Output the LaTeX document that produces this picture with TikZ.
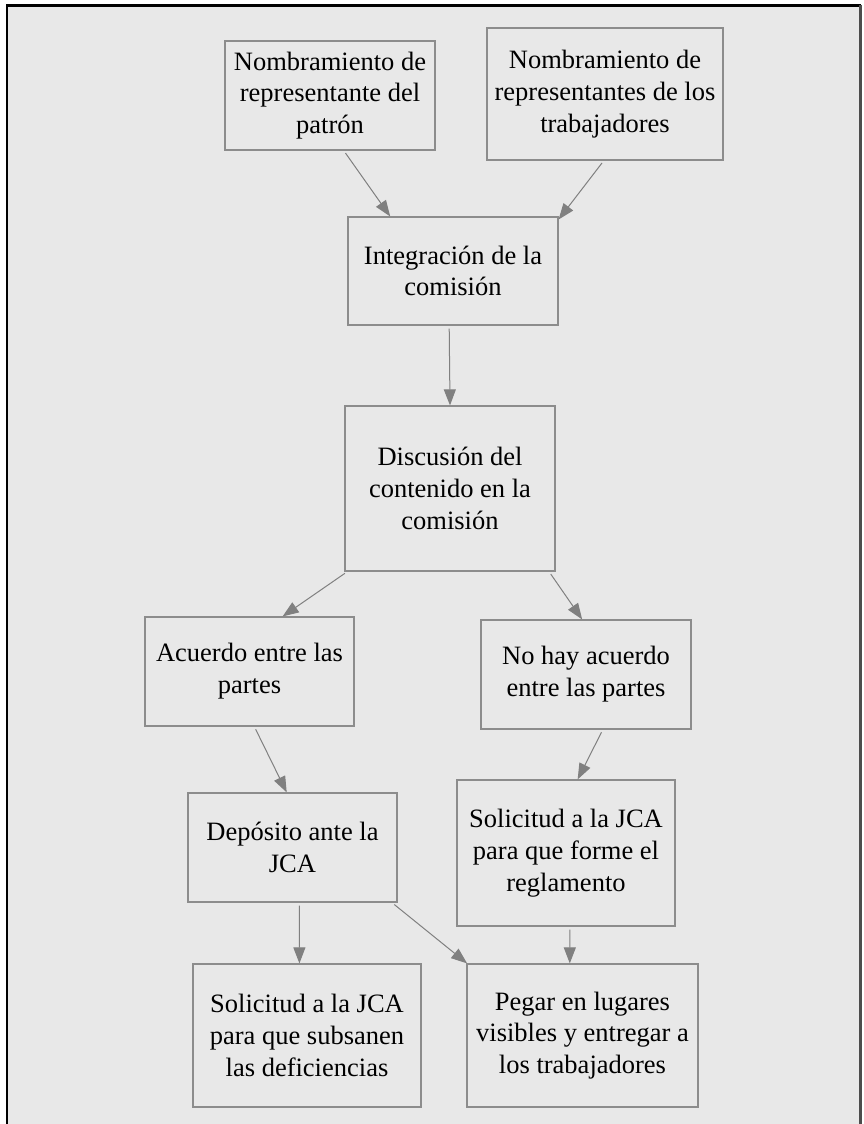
\documentclass[tikz,border=0pt]{standalone}
\usepackage{fontspec}
\setmainfont{Liberation Serif}
\usetikzlibrary{arrows.meta}
\definecolor{fondo}{HTML}{E8E8E8}
\definecolor{borde}{HTML}{8C8C8C}
\definecolor{linea}{HTML}{808080}

\begin{document}
\begin{tikzpicture}[x=1pt,y=-1pt]
   \tikzstyle{paso}=[draw=borde, fill=fondo, line width=1.2pt, align=center, inner sep=0pt, font=\fontsize{26.5}{31.8}\selectfont]
   \tikzstyle{flecha}=[draw=linea, line width=1pt, -{Triangle[length=16pt,width=12pt]}, linea, shorten <=3pt]

\useasboundingbox (0,0) rectangle (863,1124);
\fill[fondo] (7,5) rectangle (860,1124);
\draw[black, line width=3pt] (6,5.5) -- (861,5.5);
\draw[black, line width=2pt] (7,5) -- (7,1124);
\draw[black!70, line width=3pt] (860.5,5) -- (860.5,1124);

\node[paso, minimum width=210pt, minimum height=109pt] (patron) at (330,95.5) {Nombramiento de\\representante del\\patrón};
\node[paso, minimum width=236pt, minimum height=132pt] (trab) at (605,94) {Nombramiento de\\representantes de los\\trabajadores};
\node[paso, minimum width=210pt, minimum height=108pt] (integ) at (453,271) {Integración de la\\comisión};
\node[paso, minimum width=210pt, minimum height=165pt] (disc) at (450,488.5) {Discusión del\\contenido en la\\comisión};
\node[paso, minimum width=209pt, minimum height=109pt] (acuerdo) at (249.5,671.5) {Acuerdo entre las\\partes};
\node[paso, minimum width=210pt, minimum height=109pt] (noacuerdo) at (586,674.5) {No hay acuerdo\\entre las partes};
\node[paso, minimum width=209pt, minimum height=109pt] (deposito) at (292.5,847.5) {Depósito ante la\\JCA};
\node[paso, minimum width=218pt, minimum height=146pt] (forme) at (566,853) {Solicitud a la JCA\\para que forme el\\reglamento};
\node[paso, minimum width=228pt, minimum height=143pt] (subsanen) at (307,1035.5) {Solicitud a la JCA\\para que subsanen\\las deficiencias};
\node[paso, minimum width=231pt, minimum height=143pt] (pegar) at (582.5,1035.5) {Pegar en lugares\\visibles y entregar a\\los trabajadores};

\draw[flecha] (patron.-76.6) -- (integ.139.7);
\draw[flecha] (trab.-91.6) -- (integ.26.1);
\draw[flecha] (integ.-94.2) -- (disc.90.7);
\draw[flecha] (disc.-141.6) -- (acuerdo.59.6);
\draw[flecha] (disc.-40.5) -- (noacuerdo.94.1);
\draw[flecha] (acuerdo.-85.5) -- (deposito.96.8);
\draw[flecha] (noacuerdo.-73.5) -- (forme.81.4);
\draw[flecha] (deposito.-83.2) -- (subsanen.96.4);
\draw[flecha] (deposito.-29.9) -- (pegar.148);
\draw[flecha] (forme.-87.6) -- (pegar.100.7);

\end{tikzpicture}
\end{document}
